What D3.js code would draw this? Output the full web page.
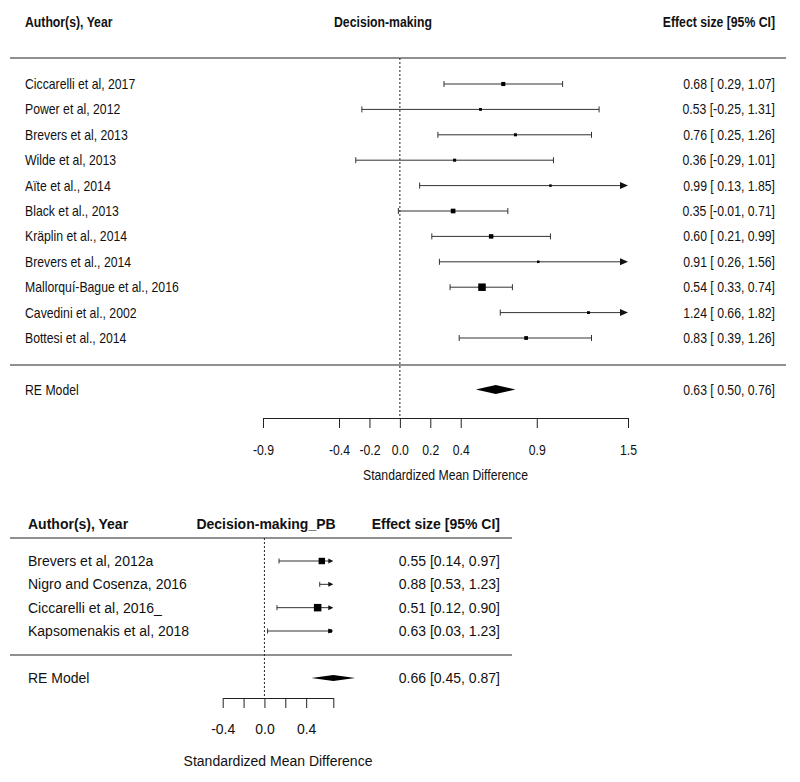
<!DOCTYPE html>
<html>
<head>
<meta charset="utf-8">
<script src="https://cdn.jsdelivr.net/npm/d3@7"></script>
<style>
  html, body { margin: 0; padding: 0; background: #fff; }
  svg text { font-family: "Liberation Sans", Arial, sans-serif; fill: #111; }
</style>
</head>
<body>
<svg id="chart" width="800" height="782"></svg>
<script>
// --- top forest plot: Decision-making
const studiesA = ["Ciccarelli et al, 2017", "Power et al, 2012", "Brevers et al, 2013", "Wilde et al, 2013",
  "Aïte et al., 2014", "Black et al., 2013", "Kräplin et al., 2014", "Brevers et al., 2014",
  "Mallorquí-Bague et al., 2016", "Cavedini et al., 2002", "Bottesi et al., 2014"];
const estA   = [0.68, 0.53, 0.76, 0.36, 0.99, 0.35, 0.60, 0.91, 0.54, 1.24, 0.83];
const lowA   = [0.29, -0.25, 0.25, -0.29, 0.13, -0.01, 0.21, 0.26, 0.33, 0.66, 0.39];
const highA  = [1.07, 1.31, 1.26, 1.01, 1.85, 0.71, 0.99, 1.56, 0.74, 1.82, 1.26];
const weightA = [9.5, 6, 6.5, 6.5, 5, 11, 10.5, 5, 19, 6, 8.5];
const reA = { est: 0.63, low: 0.50, high: 0.76 };
const ticksA = [-0.9, -0.4, -0.2, 0.0, 0.2, 0.4, 0.9, 1.5];
const alimA = [-0.9, 1.5];

// --- bottom forest plot: Decision-making_PB
const studiesB = ["Brevers et al, 2012a", "Nigro and Cosenza, 2016", "Ciccarelli et al, 2016_", "Kapsomenakis et al, 2018"];
const estB   = [0.55, 0.88, 0.51, 0.63];
const lowB   = [0.14, 0.53, 0.12, 0.03];
const highB  = [0.97, 1.23, 0.90, 1.23];
const weightB = [27, 20, 31, 16];
const reB = { est: 0.66, low: 0.45, high: 0.87 };
const ticksB = [-0.4, -0.2, 0.0, 0.2, 0.4, 0.66];
const tickLabelsB = ["-0.4", "", "0.0", "", "0.4", ""];
const alimB = [-0.4, 0.66];

const svg = d3.select("#chart");
const f2 = v => v.toFixed(2);   // plain hyphen minus, like R
const ci = (e, l, h, pad) => {
  const p = v => (pad && v >= 0 ? " " : "") + f2(v);
  return `${f2(e)} [${p(l)}, ${p(h)}]`;
};

function txt(g, x, y, s, anchor, sx, size, bold) {
  return g.append("text")
    .attr("transform", `translate(${x},${y}) scale(${sx},1)`)
    .attr("text-anchor", anchor)
    .attr("font-size", size)
    .attr("font-weight", bold ? "bold" : null)
    .text(s);
}

function forest(cfg) {
  const g = svg.append("g");
  const x = d3.scaleLinear().domain(cfg.alim).range(cfg.xr);
  const y = d3.scalePoint().domain(cfg.names).range(cfg.yr);
  const sz = d3.scaleLinear().domain(d3.extent(cfg.w)).range(cfg.sizeR);
  const sx = cfg.sx, fs = cfg.fs;

  // header
  txt(g, cfg.left, cfg.headY, "Author(s), Year", "start", sx, fs, true);
  txt(g, cfg.midX, cfg.headY, cfg.title, "middle", sx, fs, true);
  txt(g, cfg.right, cfg.headY, "Effect size [95% CI]", "end", sx, fs, true);

  // rules
  [cfg.line1, cfg.line2].forEach(yy => g.append("line")
    .attr("x1", cfg.lineX[0]).attr("x2", cfg.lineX[1]).attr("y1", yy).attr("y2", yy)
    .attr("stroke", "#222").attr("stroke-width", 1.2));

  // reference line at 0
  g.append("line").attr("x1", x(0)).attr("x2", x(0)).attr("y1", cfg.line1).attr("y2", cfg.axisY)
    .attr("stroke", "#222").attr("stroke-dasharray", "2,2");

  cfg.names.forEach((n, i) => {
    const yy = y(n);
    const lo = Math.max(cfg.lowv[i], cfg.alim[0]);
    const hiClip = cfg.highv[i] > cfg.alim[1];
    const hi = hiClip ? cfg.alim[1] : cfg.highv[i];
    txt(g, cfg.left, yy, n, "start", sx, fs).attr("dy", "0.36em");
    txt(g, cfg.right, yy, ci(cfg.est[i], cfg.lowv[i], cfg.highv[i], cfg.pad), "end", sx, fs).attr("dy", "0.36em");

    g.append("line").attr("x1", x(lo)).attr("x2", x(hi) - (hiClip ? cfg.arrow[0] * 0.5 : 0))
      .attr("y1", yy).attr("y2", yy).attr("stroke", "#333").attr("stroke-width", 1);
    g.append("line").attr("x1", x(lo)).attr("x2", x(lo)).attr("y1", yy - cfg.cap).attr("y2", yy + cfg.cap)
      .attr("stroke", "#333");
    if (hiClip) {
      const ax = x(hi), al = cfg.arrow[0], ah = cfg.arrow[1];
      g.append("path").attr("d", `M${ax},${yy}L${ax - al},${yy - ah}L${ax - al},${yy + ah}Z`).attr("fill", "#111");
    } else {
      g.append("line").attr("x1", x(hi)).attr("x2", x(hi)).attr("y1", yy - cfg.cap).attr("y2", yy + cfg.cap)
        .attr("stroke", "#333");
    }
    if (cfg.est[i] <= cfg.alim[1]) {
      const s = sz(cfg.w[i]);
      g.append("rect").attr("x", x(cfg.est[i]) - s / 2).attr("y", yy - s / 2)
        .attr("width", s).attr("height", s).attr("fill", "#000");
    }
  });

  // RE model
  const re = cfg.re, ry = cfg.reY;
  txt(g, cfg.left, ry, "RE Model", "start", sx, fs).attr("dy", "0.36em");
  txt(g, cfg.right, ry, ci(re.est, re.low, re.high, cfg.pad), "end", sx, fs).attr("dy", "0.36em");
  g.append("path")
    .attr("d", `M${x(re.low)},${ry}L${x(re.est)},${ry - cfg.dia}L${x(re.high)},${ry}L${x(re.est)},${ry + cfg.dia}Z`)
    .attr("fill", "#000");

  // axis
  const ax = g.append("g").attr("transform", `translate(0,${cfg.axisY})`)
    .call(d3.axisBottom(x).tickValues(cfg.ticks).tickSize(10).tickSizeOuter(0).tickPadding(cfg.tickPad)
      .tickFormat((d, i) => cfg.tickLabels ? cfg.tickLabels[i] : d.toFixed(1)));
  ax.select(".domain").attr("stroke", "#222");
  ax.selectAll(".tick line").attr("stroke", "#222");
  ax.selectAll(".tick text").attr("font-size", fs).attr("font-family", null)
    .attr("fill", "#111").attr("transform", `scale(${sx},1)`);

  txt(g, (cfg.xr[0] + cfg.xr[1]) / 2, cfg.xlabY, "Standardized Mean Difference", "middle", sx, fs);
}

forest({
  names: studiesA, est: estA, lowv: lowA, highv: highA, w: weightA, re: reA,
  alim: alimA, ticks: ticksA, xr: [263, 628], yr: [84, 338], sizeR: [2.5, 7.5],
  sx: 0.875, fs: 14, pad: true, title: "Decision-making",
  left: 25, right: 775, midX: 383, headY: 27, line1: 58, line2: 365, lineX: [10, 786],
  reY: 389.5, axisY: 418, tickPad: 17, xlabY: 480, cap: 3, arrow: [8, 3.5], dia: 4.5
});

forest({
  names: studiesB, est: estB, lowv: lowB, highv: highB, w: weightB, re: reB,
  alim: alimB, ticks: ticksB, tickLabels: tickLabelsB, xr: [222.7, 333.3], yr: [561, 631], sizeR: [3.5, 7.5],
  sx: 1, fs: 14, pad: false, title: "Decision-making_PB",
  left: 28, right: 500, midX: 266, headY: 529, line1: 538, line2: 655, lineX: [10, 512],
  reY: 678, axisY: 698, tickPad: 16, xlabY: 766, cap: 2.5, arrow: [5, 2.5], dia: 3
});
</script>
</body>
</html>
